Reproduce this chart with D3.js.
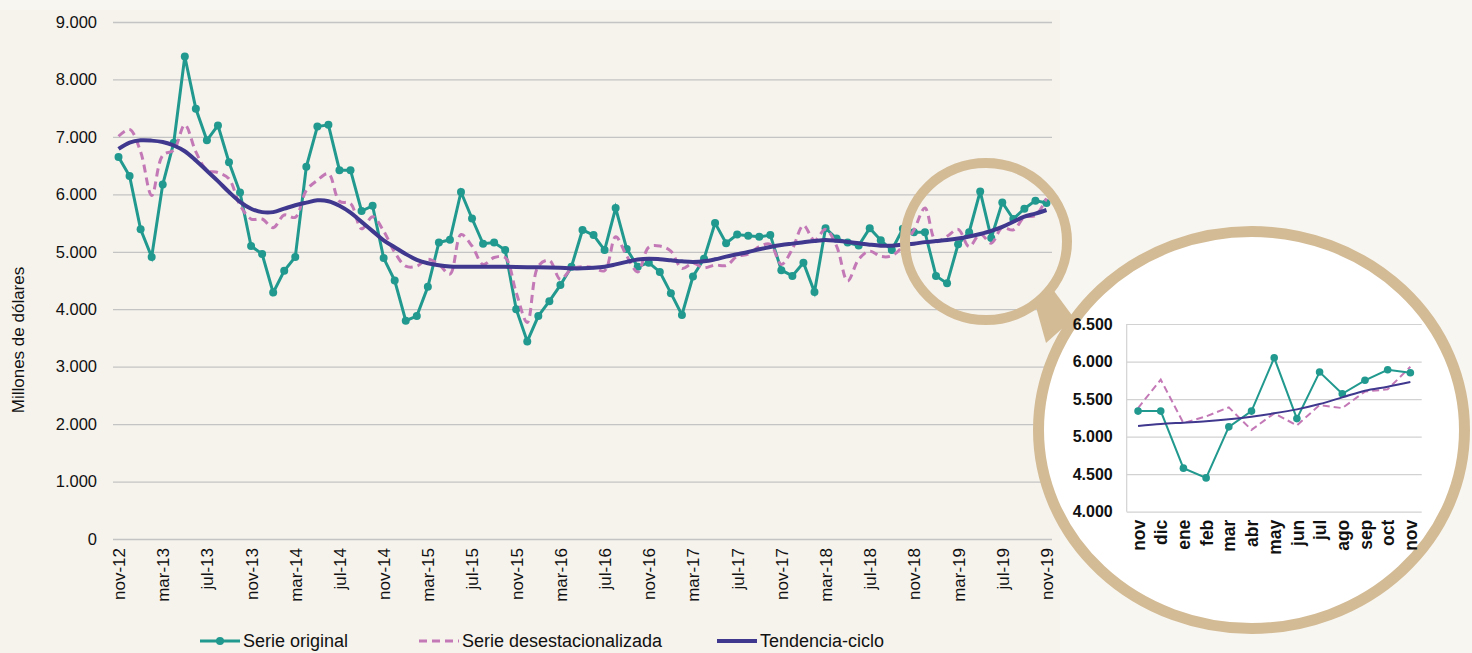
<!DOCTYPE html>
<html>
<head>
<meta charset="utf-8">
<script src="https://cdn.jsdelivr.net/npm/d3@7"></script>
<style>
  body { margin: 0; background: #f8f6f1; }
  svg { display: block; font-family: "Liberation Sans", Arial, sans-serif; }
</style>
</head>
<body>
<script>
// month names used to build the category axis (nov-12 .. nov-19)
const monthNames = ["ene","feb","mar","abr","may","jun","jul","ago","sep","oct","nov","dic"];
const startMonth = 10, startYear = 12, nMonths = 85;

const yTicks = [0, 1000, 2000, 3000, 4000, 5000, 6000, 7000, 8000, 9000];
const insetTicks = [4000, 4500, 5000, 5500, 6000, 6500];
const insetLabels = ["nov","dic","ene","feb","mar","abr","may","jun","jul","ago","sep","oct","nov"];

// Serie original (millones de dólares)
const original = [
  6650, 6320, 5390, 4910, 6170, 6900, 8400, 7490, 6940, 7200, 6560, 6030, 5100,
  4960, 4290, 4670, 4910, 6480, 7180, 7210, 6420, 6420, 5710, 5800, 4890,
  4500, 3800, 3880, 4390, 5160, 5210, 6040, 5580, 5140, 5160, 5030, 4000,
  3440, 3880, 4140, 4420, 4740, 5380, 5290, 5030, 5760, 5050, 4740,
  4810, 4650, 4280, 3900, 4570, 4880, 5500, 5150, 5300, 5280, 5260, 5290,
  4680, 4580, 4810, 4300, 5410, 5230, 5160, 5110, 5410, 5200, 5030, 5400,
  5340, 5340, 4580, 4450, 5130, 5340, 6050, 5240, 5860, 5570, 5750, 5890, 5850
];

// Serie desestacionalizada
const desest = [
  7010, 7130, 6740, 5980, 6680, 6770, 7210, 6740, 6420, 6380, 6270, 5810, 5570,
  5570, 5420, 5640, 5600, 6070, 6245, 6360, 5880, 5840, 5400, 5610, 5360,
  4990, 4750, 4750, 4870, 4780, 4610, 5300, 5100, 4780, 4900, 4900, 4290,
  3770, 4750, 4850, 4520, 4700, 4740, 4720, 4670, 5260, 4930, 4650,
  5080, 5100, 5010, 4710, 4800, 4720, 4770, 4760, 4920, 4960, 5090, 5130,
  4780, 5050, 5460, 5200, 5390, 5100, 4490, 4870, 5010, 4920, 4930, 5100,
  5380, 5760, 5180, 5270, 5390, 5090, 5310, 5150, 5420, 5380, 5600, 5630, 5930
];

// Tendencia-ciclo
const tendencia = [
  6790, 6900, 6940, 6935, 6910, 6850, 6750, 6590, 6410, 6230, 6040, 5870, 5750,
  5690, 5690, 5750, 5810, 5855, 5895, 5880, 5800, 5680, 5520, 5360, 5200,
  5080, 4960, 4860, 4800, 4765, 4745, 4740, 4740, 4740, 4740, 4738, 4735,
  4732, 4730, 4725, 4720, 4712, 4712, 4720, 4740, 4780, 4825, 4865,
  4880, 4870, 4852, 4834, 4823, 4834, 4869, 4915, 4956, 4997, 5043, 5084,
  5118, 5142, 5165, 5188, 5205, 5190, 5171, 5147, 5124, 5107, 5107, 5125,
  5141, 5168, 5186, 5204, 5230, 5266, 5310, 5363, 5434, 5523, 5612, 5665, 5727
];

const months = d3.range(nMonths).map(i => {
  const m = (startMonth + i) % 12;
  const yy = startYear + Math.floor((startMonth + i) / 12);
  return monthNames[m] + "-" + yy;
});

const C = {
  teal: "#21998e", pink: "#c479b7", purple: "#3f388e",
  tan: "#d3bb95", grid: "#c4c4c4", panel: "#f6f3ed", bg: "#f8f6f1"
};

const W = 1472, H = 653;
const svg = d3.select("body").append("svg").attr("width", W).attr("height", H);

svg.append("rect").attr("width", W).attr("height", H).attr("fill", C.bg);
svg.append("rect").attr("x", 0).attr("y", 10).attr("width", 1060).attr("height", H - 10).attr("fill", C.panel);

// ---------- main chart ----------
const x = d3.scalePoint().domain(months).range([113, 1052]).padding(0.5);
const y = d3.scaleLinear().domain([0, 9000]).range([539, 22]);

const main = svg.append("g");

main.append("g")
  .attr("transform", "translate(113,0)")
  .call(d3.axisLeft(y).tickValues(yTicks).tickSize(-939).tickPadding(16)
    .tickFormat(d => d3.format(",")(d).replace(/,/g, ".")))
  .call(g => g.select(".domain").remove())
  .call(g => g.selectAll(".tick line").attr("stroke", C.grid).attr("stroke-width", 1.3))
  .call(g => g.selectAll(".tick text").attr("font-size", 16.5).attr("fill", "#111")
    .attr("font-family", "Liberation Sans, Arial, sans-serif"));

const xTickVals = months.filter((d, i) => i % 4 === 0);
main.append("g")
  .attr("transform", "translate(0,539)")
  .call(d3.axisBottom(x).tickValues(xTickVals).tickSize(0).tickPadding(0))
  .call(g => g.select(".domain").remove())
  .call(g => g.selectAll(".tick text")
    .attr("transform", "rotate(-90)")
    .attr("x", -9).attr("y", 0).attr("dy", "0.35em")
    .attr("text-anchor", "end")
    .attr("font-size", 17).attr("fill", "#111")
    .attr("font-family", "Liberation Sans, Arial, sans-serif"));

main.append("text")
  .attr("transform", "translate(24,340) rotate(-90)")
  .attr("text-anchor", "middle")
  .attr("font-size", 17).attr("fill", "#111")
  .text("Millones de dólares");

const lineLin = d3.line().x((d, i) => x(months[i])).y(d => y(d));
const lineSmooth = d3.line().x((d, i) => x(months[i])).y(d => y(d)).curve(d3.curveCatmullRom.alpha(0.5));

main.append("path").datum(original)
  .attr("fill", "none").attr("stroke", C.teal).attr("stroke-width", 3).attr("d", lineLin);
main.selectAll(".dot").data(original).enter().append("circle")
  .attr("class", "dot")
  .attr("cx", (d, i) => x(months[i])).attr("cy", d => y(d)).attr("r", 4)
  .attr("fill", C.teal);

main.append("path").datum(desest)
  .attr("fill", "none").attr("stroke", C.pink).attr("stroke-width", 3)
  .attr("stroke-dasharray", "8,5").attr("d", lineSmooth);

main.append("path").datum(tendencia)
  .attr("fill", "none").attr("stroke", C.purple).attr("stroke-width", 4)
  .attr("d", lineSmooth);

// ---------- legend ----------
const legend = svg.append("g").attr("font-size", 18).attr("fill", "#111");
const legY = 641, legBase = 647;
legend.append("line").attr("x1", 200).attr("x2", 240).attr("y1", legY).attr("y2", legY)
  .attr("stroke", C.teal).attr("stroke-width", 3);
legend.append("circle").attr("cx", 220).attr("cy", legY).attr("r", 4).attr("fill", C.teal);
legend.append("text").attr("x", 243).attr("y", legBase).text("Serie original");

legend.append("line").attr("x1", 419).attr("x2", 459).attr("y1", legY).attr("y2", legY)
  .attr("stroke", C.pink).attr("stroke-width", 3).attr("stroke-dasharray", "8,5");
legend.append("text").attr("x", 462).attr("y", legBase).text("Serie desestacionalizada");

legend.append("line").attr("x1", 717).attr("x2", 757).attr("y1", legY).attr("y2", legY)
  .attr("stroke", C.purple).attr("stroke-width", 4);
legend.append("text").attr("x", 760).attr("y", legBase).text("Tendencia-ciclo");

// ---------- magnifier ----------
svg.append("polygon")
  .attr("points", "1034,300 1054,291 1074,318 1046,343")
  .attr("fill", C.tan);

svg.append("ellipse")
  .attr("cx", 1251.5).attr("cy", 430).attr("rx", 213).attr("ry", 198.5)
  .attr("fill", "#ffffff").attr("stroke", C.tan).attr("stroke-width", 11);

svg.append("ellipse")
  .attr("cx", 986).attr("cy", 241.5).attr("rx", 81).attr("ry", 78.5)
  .attr("fill", "none").attr("stroke", C.tan).attr("stroke-width", 10);

// ---------- inset chart (last 13 months) ----------
const inOrig = original.slice(-13), inDes = desest.slice(-13), inTen = tendencia.slice(-13);
const idx = d3.range(13);
const xi = d3.scalePoint().domain(idx).range([1126.7, 1421.7]).padding(0.5);
const yi = d3.scaleLinear().domain([4000, 6500]).range([511.7, 324]);

const inset = svg.append("g");
inset.append("g")
  .attr("transform", "translate(1126.7,0)")
  .call(d3.axisLeft(yi).tickValues(insetTicks).tickSize(-295).tickPadding(14)
    .tickFormat(d => d3.format(",")(d).replace(/,/g, ".")))
  .call(g => g.select(".domain").remove())
  .call(g => g.selectAll(".tick line").attr("stroke", "#d2d2d2").attr("stroke-width", 1.2))
  .call(g => g.selectAll(".tick text").attr("font-size", 16).attr("font-weight", "bold")
    .attr("fill", "#111").attr("font-family", "Liberation Sans, Arial, sans-serif"));

inset.append("line").attr("x1", 1126.7).attr("x2", 1126.7).attr("y1", 324).attr("y2", 511.7)
  .attr("stroke", "#d2d2d2").attr("stroke-width", 1.2);

inset.append("g")
  .attr("transform", "translate(0,511.7)")
  .call(d3.axisBottom(xi).tickSize(0).tickPadding(0).tickFormat(i => insetLabels[i]))
  .call(g => g.select(".domain").remove())
  .call(g => g.selectAll(".tick text")
    .attr("transform", "rotate(-90)")
    .attr("x", -8).attr("y", 0).attr("dy", "0.35em")
    .attr("text-anchor", "end")
    .attr("font-size", 17.5).attr("font-weight", "bold").attr("fill", "#111")
    .attr("font-family", "Liberation Sans, Arial, sans-serif"));

const liLin = d3.line().x((d, i) => xi(i)).y(d => yi(d));
const liSmooth = d3.line().x((d, i) => xi(i)).y(d => yi(d)).curve(d3.curveCatmullRom.alpha(0.5));

inset.append("path").datum(inDes)
  .attr("fill", "none").attr("stroke", C.pink).attr("stroke-width", 2)
  .attr("stroke-dasharray", "7,4").attr("d", liLin);
inset.append("path").datum(inOrig)
  .attr("fill", "none").attr("stroke", C.teal).attr("stroke-width", 2).attr("d", liLin);
inset.selectAll(".idot").data(inOrig).enter().append("circle")
  .attr("class", "idot")
  .attr("cx", (d, i) => xi(i)).attr("cy", d => yi(d)).attr("r", 3.8)
  .attr("fill", C.teal);
inset.append("path").datum(inTen)
  .attr("fill", "none").attr("stroke", C.purple).attr("stroke-width", 2).attr("d", liSmooth);
</script>
</body>
</html>
